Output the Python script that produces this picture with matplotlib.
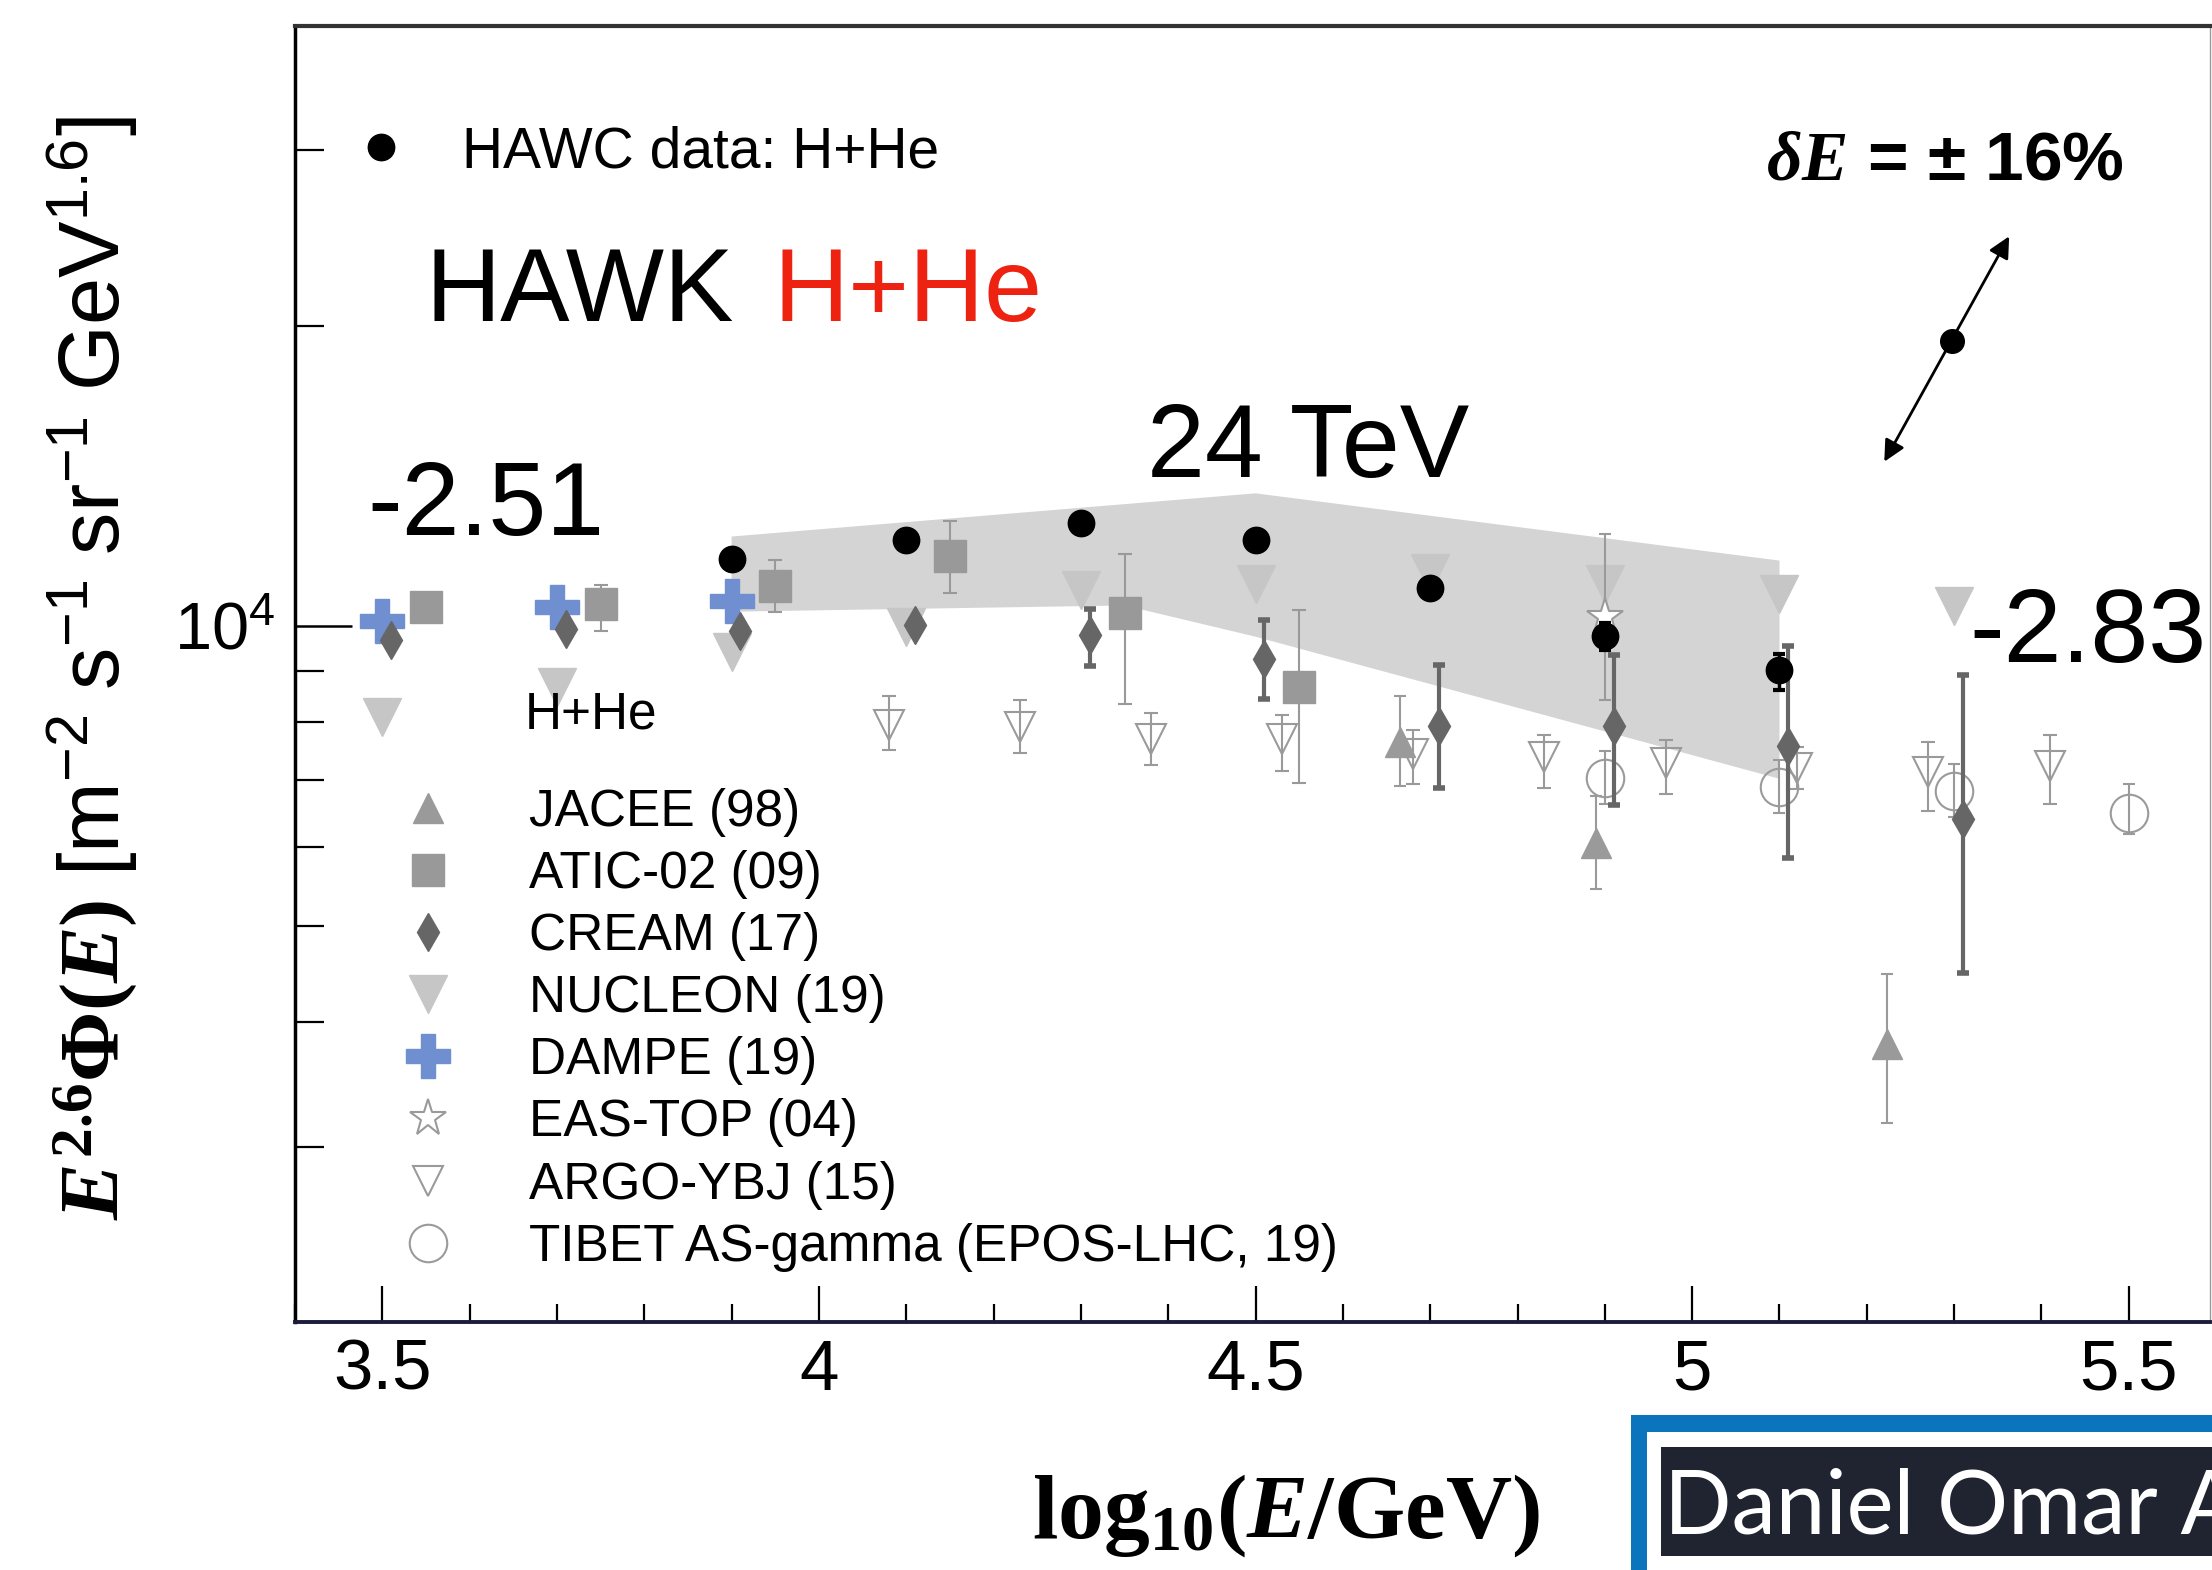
import matplotlib.pyplot as plt
from matplotlib.patches import Rectangle
from matplotlib.ticker import MultipleLocator, NullFormatter, FixedLocator, LogLocator
import numpy as np

plt.rcParams['font.family'] = 'Liberation Sans'
plt.rcParams['mathtext.fontset'] = 'custom'
plt.rcParams['mathtext.rm'] = 'Liberation Sans'
plt.rcParams['mathtext.it'] = 'Liberation Serif:bold:italic'
plt.rcParams['mathtext.bf'] = 'Liberation Serif:bold'

# HAWC H+He spectrum, E^2.6 * flux
hawc_x = [3.9, 4.1, 4.3, 4.5, 4.7, 4.9, 5.1]
hawc_y = [11680, 12180, 12670, 12180, 10900, 9760, 9020]
hawc_lo = [11500, 12000, 12480, 11990, 10700, 9450, 8620]
hawc_hi = [11860, 12360, 12860, 12370, 11100, 10070, 9370]

# systematic band (polygon: upper edge then lower edge)
band_x = [3.9, 4.5, 5.1, 5.1, 4.5, 4.35, 3.9]
band_y = [12290, 13580, 11625, 7020, 9750, 10480, 10330]

jacee_x = [4.665, 4.89, 5.223]
jacee_y = [7650, 6050, 3800]
jacee_lo = [6910, 5440, 3170]
jacee_hi = [8510, 6750, 4470]

atic_x = [3.55, 3.75, 3.95, 4.15, 4.35, 4.55]
atic_y = [10440, 10520, 10960, 11750, 10300, 8680]
atic_lo = [10290, 9890, 10320, 10790, 8350, 6960]
atic_hi = [10600, 10980, 11630, 12730, 11810, 10360]

cream_x = [3.51, 3.71, 3.91, 4.11, 4.31, 4.51, 4.71, 4.91, 5.11, 5.31]
cream_y = [9670, 9930, 9890, 10010, 9780, 9270, 7940, 7940, 7580, 6390]
cream_lo = [9540, 9800, 9760, 9880, 9120, 8440, 6880, 6600, 5850, 4480]
cream_hi = [9800, 10060, 10020, 10140, 10400, 10140, 9140, 9350, 9550, 8930]

nucleon_x = [3.5, 3.7, 3.9, 4.1, 4.3, 4.5, 4.7, 4.9, 5.1, 5.3]
nucleon_y = [8090, 8680, 9410, 9970, 10870, 11000, 11300, 11000, 10770, 10460]

dampe_x = [3.5, 3.7, 3.9]
dampe_y = [10120, 10450, 10600]

eastop_x = [4.9]
eastop_y = [10200]
eastop_lo = [8430]
eastop_hi = [12350]

argo_x = [4.08, 4.23, 4.38, 4.53, 4.68, 4.83, 4.97, 5.12, 5.27, 5.41]
argo_y = [7950, 7910, 7700, 7700, 7430, 7380, 7280, 7200, 7130, 7230]
argo_lo = [7510, 7450, 7250, 7150, 6930, 6880, 6780, 6860, 6520, 6620]
argo_hi = [8500, 8430, 8180, 8130, 7860, 7770, 7670, 7560, 7640, 7770]

tibet_x = [4.9, 5.1, 5.3, 5.5]
tibet_y = [7030, 6890, 6820, 6490]
tibet_lo = [6620, 6480, 6420, 6180]
tibet_hi = [7480, 7330, 7260, 6930]

# energy scale uncertainty arrow (lower tip, centre, upper tip)
escale_x = [5.220, 5.298, 5.363]
escale_y = [14610, 19300, 24600]


def yerr(y, lo, hi):
    y = np.array(y)
    return [y - np.array(lo), np.array(hi) - y]


fig = plt.figure(figsize=(22.12, 15.70), dpi=100)
W, H = 2212, 1570
ax = fig.add_axes([295 / W, 1 - 1322 / H, (2210 - 295) / W, (1322 - 26) / H])
ax.set_yscale('log')
ax.set_xlim(3.4, 5.593)
ax.set_ylim(2000, 40000)

ax.fill(band_x, band_y, color='#d4d4d4', lw=0, zorder=1)

grey = '#9a9a9a'
h_jacee = ax.errorbar(jacee_x, jacee_y, yerr=yerr(jacee_y, jacee_lo, jacee_hi), fmt='^',
                      ms=22, color=grey, mec=grey, elinewidth=1.5, capsize=4, capthick=1.5, zorder=3)
h_atic = ax.errorbar(atic_x, atic_y, yerr=yerr(atic_y, atic_lo, atic_hi), fmt='s',
                     ms=23, color='#999999', mec='#999999', elinewidth=1.5, capsize=5, capthick=1.5, zorder=3)
h_nucleon, = ax.plot(nucleon_x, nucleon_y, 'v', ms=27, color='#c6c6c6', mec='#c6c6c6', zorder=3)
h_cream = ax.errorbar(cream_x, cream_y, yerr=yerr(cream_y, cream_lo, cream_hi), fmt='d',
                      ms=19, color='#666666', mec='#666666', elinewidth=3, capsize=4, capthick=4, zorder=4)
h_dampe, = ax.plot(dampe_x, dampe_y, 'P', ms=31, color='#6f8fd0', mec='#6f8fd0', zorder=4)
h_eastop = ax.errorbar(eastop_x, eastop_y, yerr=yerr(eastop_y, eastop_lo, eastop_hi), fmt='*',
                       ms=28, mfc='white', mec=grey, mew=1.5, ecolor=grey, elinewidth=1.5,
                       capsize=4, capthick=2, zorder=3)
h_argo = ax.errorbar(argo_x, argo_y, yerr=yerr(argo_y, argo_lo, argo_hi), fmt='v',
                     ms=22, mfc='none', mec=grey, mew=1.5, ecolor=grey, elinewidth=1.5,
                     capsize=5, capthick=2, zorder=3)
h_tibet = ax.errorbar(tibet_x, tibet_y, yerr=yerr(tibet_y, tibet_lo, tibet_hi), fmt='o',
                      ms=27, mfc='none', mec=grey, mew=1.5, ecolor=grey, elinewidth=1.5,
                      capsize=4, capthick=2, zorder=3)
h_hawc = ax.errorbar(hawc_x, hawc_y, yerr=yerr(hawc_y, hawc_lo, hawc_hi), fmt='o',
                     ms=19, color='black', elinewidth=2.5, capsize=4, capthick=3, zorder=6)

# energy scale arrow
ax.annotate('', xy=(escale_x[2], escale_y[2]), xytext=(escale_x[0], escale_y[0]),
            arrowprops=dict(arrowstyle='<|-|>', lw=2, color='black', mutation_scale=32,
                            shrinkA=0, shrinkB=0), zorder=6)
ax.plot(escale_x[1], escale_y[1], 'o', ms=17, color='black', zorder=7)
ax.text(5.085, 28030, r'$\delta E$ = ± 16%', fontsize=50, fontweight='bold', va='baseline', ha='left')

# slide annotations
ax.text(3.550, 20210, 'HAWK', fontsize=75, va='baseline', ha='left', zorder=8)
ax.text(3.948, 20210, 'H+He', fontsize=75, va='baseline', ha='left', color='#ee2211', zorder=8)
ax.text(3.483, 12346, '-2.51', fontsize=75, va='baseline', ha='left', zorder=8)
ax.text(4.376, 14110, '24 TeV', fontsize=75, va='baseline', ha='left', zorder=8)
ax.text(5.318, 9200, '-2.83', fontsize=75, va='baseline', ha='left', zorder=8)

# legends
leg1 = ax.legend([h_hawc[0]], ['HAWC data: H+He'], loc='upper left', bbox_to_anchor=(0.0303, 0.9235),
                 frameon=False, fontsize=41, handlelength=1.0, handletextpad=0.92, borderpad=0,
                 borderaxespad=0)
ax.add_artist(leg1)
ax.text(0.1201, 0.4684, 'H+He', transform=ax.transAxes, fontsize=37, va='center', ha='left')
handles = [h_jacee[0], h_atic[0], h_cream[0], h_nucleon, h_dampe, h_eastop[0], h_argo[0], h_tibet[0]]
labels = ['JACEE (98)', 'ATIC-02 (09)', 'CREAM (17)', 'NUCLEON (19)', 'DAMPE (19)',
          'EAS-TOP (04)', 'ARGO-YBJ (15)', 'TIBET AS-gamma (EPOS-LHC, 19)']
ax.legend(handles, labels, loc='upper left', bbox_to_anchor=(0.0428, 0.4121), frameon=False,
          fontsize=37, handlelength=2.0, handletextpad=0.95, labelspacing=0.255, borderpad=0,
          borderaxespad=0)

# axes styling
ax.xaxis.set_major_locator(FixedLocator([3.5, 4, 4.5, 5, 5.5]))
ax.xaxis.set_minor_locator(MultipleLocator(0.1))
ax.set_xticklabels(['3.5', '4', '4.5', '5', '5.5'])
ax.yaxis.set_major_locator(FixedLocator([1e4]))
ax.yaxis.set_minor_locator(LogLocator(base=10, subs=np.arange(2, 10)))
ax.yaxis.set_minor_formatter(NullFormatter())
ax.set_yticklabels([r'$\mathrm{10^4}$'])
ax.tick_params(axis='x', which='major', direction='in', length=26, width=1.6, labelsize=51, pad=12, top=False)
ax.tick_params(axis='x', which='minor', direction='in', length=13, width=1.6, top=False)
ax.tick_params(axis='y', which='major', direction='in', length=41, width=1.8, labelsize=48, pad=14, right=False)
ax.tick_params(axis='y', which='minor', direction='in', length=21, width=1.6, right=False)
ax.spines['left'].set_linewidth(2.5)
ax.spines['bottom'].set_linewidth(2.8)
ax.spines['bottom'].set_color('#1c1c3c')
ax.spines['top'].set_linewidth(3)
ax.spines['top'].set_color('#333333')
ax.spines['right'].set_linewidth(1)
ax.spines['right'].set_color('#999999')

fig.text(1286 / W, 1 - 1538 / H, r'$\mathbf{log_{10}(}\mathit{E}\mathbf{/GeV)}$', fontsize=66,
         ha='center', va='baseline')
fig.text(92 / W, 1 - 668 / H,
         r'$\mathit{E}^{\mathbf{2.6}}\mathbf{\Phi(}\mathit{E}\mathbf{)}\ \mathrm{[m^{-2}\ s^{-1}\ sr^{-1}\ GeV^{1.6}]}$',
         fontsize=61, rotation=90, ha='center', va='center')

# name banner of the slide
fig.add_artist(Rectangle((1631 / W, 0), (W - 1631) / W, (H - 1415) / H, transform=fig.transFigure,
                         color='#0a74bc', lw=0))
fig.add_artist(Rectangle((1647 / W, 0), (W - 1647) / W, (H - 1432) / H, transform=fig.transFigure,
                         color='white', lw=0))
fig.add_artist(Rectangle((1661 / W, 1 - 1556 / H), (W - 1661) / W, (1556 - 1447) / H,
                         transform=fig.transFigure, color='#1f2430', lw=0))
fig.text(1664 / W, 1 - 1533 / H, 'Daniel Omar A', fontsize=64, family='Lato', color='white',
         ha='left', va='baseline')

fig.savefig('out.png', dpi=100)
